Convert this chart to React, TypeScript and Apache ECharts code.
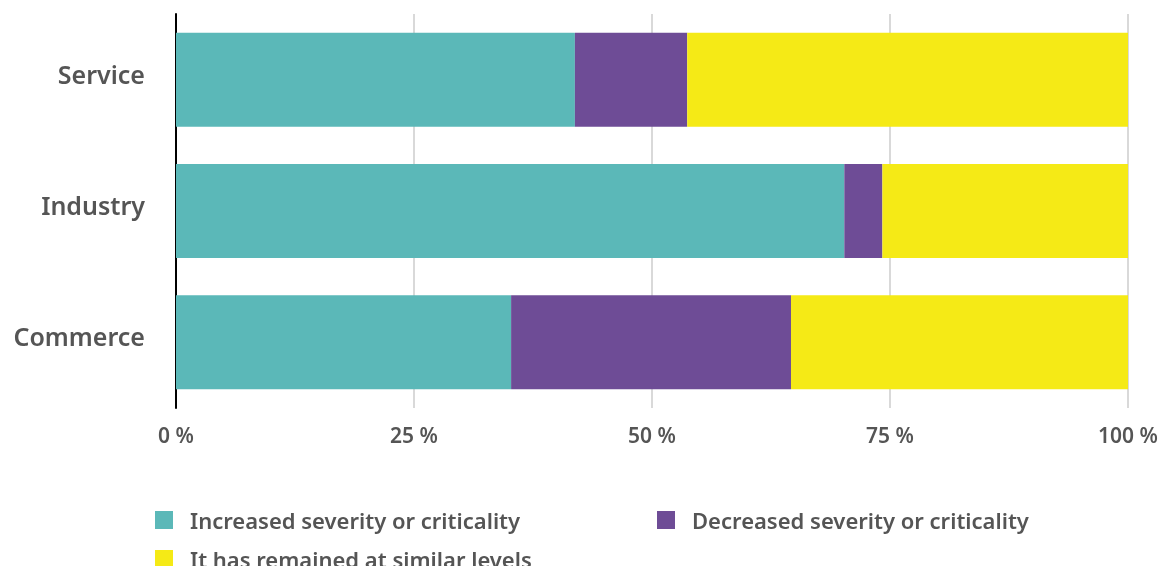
import React, { useEffect, useRef } from "react";
import * as echarts from "echarts";

const categories = ["Service", "Industry", "Commerce"];
const seriesNames = [
  "Increased severity or criticality",
  "Decreased severity or criticality",
  "It has remained at similar levels",
];
const increased = [41.9, 70.2, 35.2];
const decreased = [11.8, 4.0, 29.4];
const remained = [46.3, 25.8, 35.4];
const colors = ["#5bb8b8", "#6e4c96", "#f5ea16"];
const xTicks = [0, 25, 50, 75, 100];

const FONT = "'Noto Sans', Lato, sans-serif";
const TEXT = "#555555";

export default function App() {
  const ref = useRef<HTMLDivElement>(null);

  useEffect(() => {
    if (!ref.current) return;
    const chart = echarts.init(ref.current, null, { renderer: "svg" });
    const values = [increased, decreased, remained];
    chart.setOption({
      animation: false,
      grid: { left: 176, right: 34, top: 14, bottom: 158, containLabel: false },
      xAxis: {
        type: "value",
        min: 0,
        max: 100,
        interval: 25,
        axisLine: { show: false },
        axisTick: { show: false },
        splitLine: { lineStyle: { color: "#cccccc", width: 1.5 } },
        axisLabel: {
          margin: 16,
          color: TEXT,
          fontFamily: FONT,
          fontSize: 21,
          fontWeight: 600,
          formatter: (v: number) => (xTicks.includes(v) ? `${v} %` : ""),
        },
      },
      yAxis: {
        type: "category",
        data: categories,
        inverse: true,
        axisLine: { show: true, lineStyle: { color: "#000000", width: 2 } },
        axisTick: { show: false },
        axisLabel: {
          margin: 31,
          formatter: (v: string) => `{c|${v}}`,
          rich: {
            c: {
              color: TEXT,
              fontFamily: FONT,
              fontSize: 25,
              fontWeight: 600,
              padding: [0, 0, 12, 0],
            },
          },
        },
      },
      legend: {
        left: 155,
        top: 509,
        width: 1000,
        itemWidth: 18,
        itemHeight: 18,
        itemGap: 17,
        icon: "rect",
        padding: 0,
        textStyle: {
          color: TEXT,
          fontFamily: FONT,
          fontSize: 22,
          fontWeight: 600,
          width: 450,
          lineHeight: 19,
          padding: [0, 0, 0, 12],
        },
        data: seriesNames,
      },
      series: seriesNames.map((name, i) => ({
        name,
        type: "bar",
        stack: "total",
        data: values[i],
        barCategoryGap: "28.4%",
        itemStyle: { color: colors[i] },
      })),
    });
    return () => chart.dispose();
  }, []);

  return (
    <div
      ref={ref}
      style={{ position: "fixed", left: 0, top: 0, width: 1162, height: 566 }}
    />
  );
}
